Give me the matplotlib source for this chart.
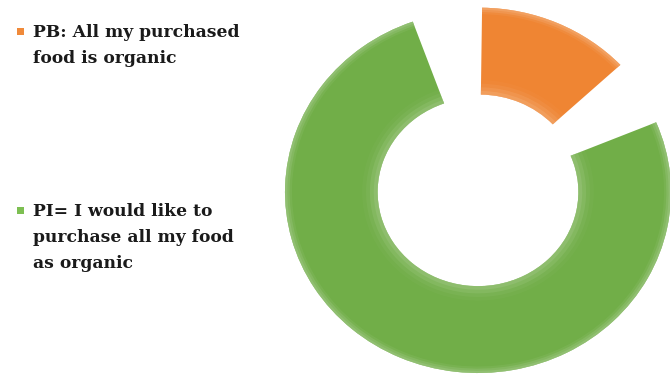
import matplotlib
matplotlib.use("Agg")
import matplotlib.pyplot as plt
from matplotlib.patches import Wedge, Rectangle
from matplotlib.colors import to_rgb
import numpy as np

# Survey shares (percent)
labels = ["PB: All my purchased\nfood is organic",
          "PI= I would like to\npurchase all my food\nas organic"]
values = [18.5, 81.5]
colors = ["#EF8533", "#71AE48"]
explode = [0.02, 0.0]

W, H = 670, 376
fig = plt.figure(figsize=(W / 100, H / 100), dpi=100)
fig.patch.set_facecolor("white")

# Donut axes: slightly wider than tall, as in the slide chart
cx, cy = 478, H - 192          # centre in pixels
rx, ry = 193, 181               # unit radius in pixels (x, y)
lim = 1.06
ax = fig.add_axes([(cx - rx * lim) / W, (cy - ry * lim) / H,
                   2 * rx * lim / W, 2 * ry * lim / H])

ring_width = 0.48
gap = 20.5  # angular gap between segments, degrees

wedges, _ = ax.pie(values, colors=colors, startangle=99.5, counterclock=False,
                   radius=1.0, explode=explode,
                   wedgeprops=dict(width=ring_width, linewidth=0))
ax.set_aspect("auto")
ax.set_xlim(-lim, lim)
ax.set_ylim(-lim, lim)
ax.axis("off")


def lighten(c, amt):
    r, g, b = to_rgb(c)
    return (r + (1 - r) * amt, g + (1 - g) * amt, b + (1 - b) * amt)


for w, c in zip(wedges, colors):
    w.set_theta1(w.theta1 + gap / 2)
    w.set_theta2(w.theta2 - gap / 2)
    t1, t2 = w.theta1, w.theta2
    r_out, width = w.r, w.width
    r_in = r_out - width
    ctr = w.center
    hi = lighten(c, 0.30)
    # soft bevel: lighter rims along the outer and inner edges
    for k, a in enumerate([0.55, 0.35, 0.18]):
        d = 0.012 * (k + 1)
        ax.add_patch(Wedge(ctr, r_out, t1, t2, width=d, facecolor=hi,
                           edgecolor="none", alpha=a, zorder=3))
    for k, a in enumerate([0.45, 0.30, 0.15, 0.08]):
        d = 0.02 * (k + 1)
        ax.add_patch(Wedge(ctr, r_in + d, t1, t2, width=d, facecolor=hi,
                           edgecolor="none", alpha=a, zorder=3))

# Legend, drawn in figure pixels
font = dict(family="DejaVu Serif", weight="bold", fontsize=12.3,
            color="#1a1a1a")
marker_colors = ["#F08A3A", "#7DBF52"]
entries = [(31, [37, 63]), (210, [216, 242, 268])]
for (my, baselines), lab, mc in zip(entries, labels, marker_colors):
    fig.patches.append(Rectangle(((20 - 3.5) / W, (H - my - 3.5) / H),
                                 7 / W, 7 / H, transform=fig.transFigure,
                                 facecolor=mc, edgecolor="none"))
    for line, by in zip(lab.split("\n"), baselines):
        fig.text(33 / W, (H - by) / H, line, ha="left", va="baseline", **font)

fig.savefig("out.png", dpi=100, facecolor="white")
